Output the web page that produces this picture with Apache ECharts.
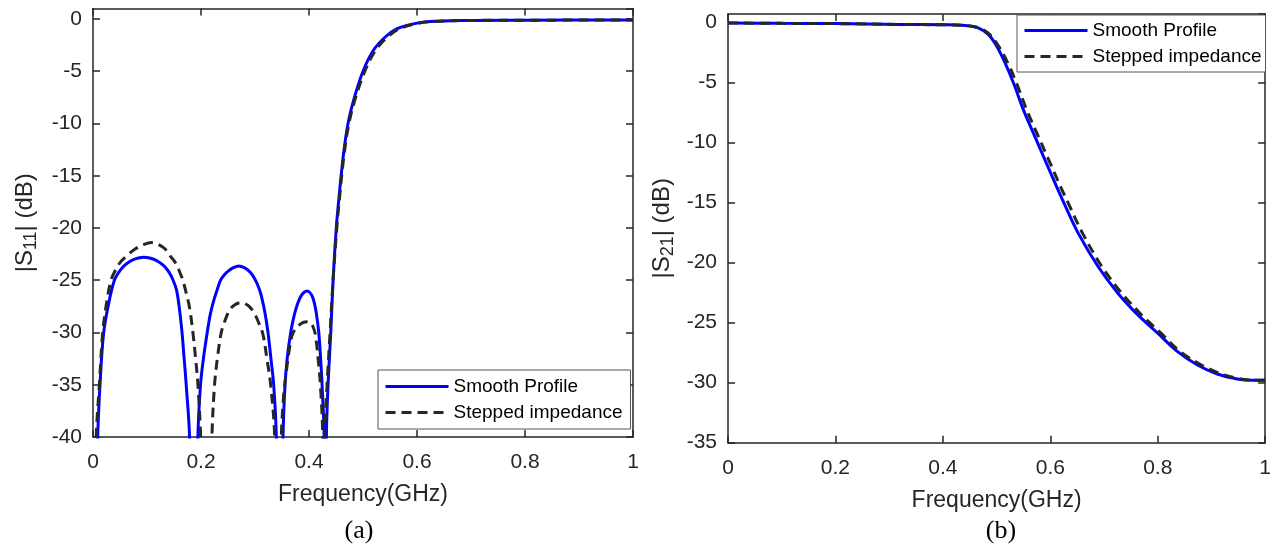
<!DOCTYPE html>
<html>
<head>
<meta charset="utf-8">
<script src="https://cdn.jsdelivr.net/npm/echarts@6/dist/echarts.min.js"></script>
<style>
html,body{margin:0;padding:0;background:#fff;}
#chart{width:1274px;height:545px;}
</style>
</head>
<body>
<div id="chart"></div>
<script>
// ---------- DATA (frequency in GHz, magnitude in dB) ----------
const xTicks = [0, 0.2, 0.4, 0.6, 0.8, 1];
const seriesNames = ['Smooth Profile', 'Stepped impedance'];
const captions = ['(a)', '(b)'];

// (a) |S11| - smooth profile (nulls go below the -40 dB axis floor)
const s11Smooth = [
  [0,-60],[0.0087,-40],[0.013,-35],[0.0198,-30],[0.0303,-26.9],[0.0396,-25],[0.047,-24.3],[0.055,-23.75],[0.064,-23.35],
  [0.0736,-23.06],[0.084,-22.88],[0.094,-22.8],[0.105,-22.88],[0.117,-23.1],[0.126,-23.4],[0.133,-23.7],[0.141,-24.25],
  [0.148,-24.95],[0.1545,-25.9],[0.1595,-27.5],[0.1645,-29.8],[0.1685,-32.3],[0.1726,-35],[0.1788,-40],[0.1865,-60],
  [0.1942,-40],[0.1991,-35],[0.2045,-32.5],[0.2115,-30],[0.2175,-28.2],[0.2238,-26.9],[0.23,-25.9],[0.2362,-25],[0.243,-24.5],
  [0.2498,-24.15],[0.26,-23.8],[0.2702,-23.64],[0.28,-23.8],[0.29,-24.18],[0.2965,-24.6],[0.3024,-25.15],[0.3075,-25.8],
  [0.3117,-26.5],[0.318,-28],[0.3241,-30],[0.3295,-32.5],[0.3346,-35],[0.3395,-40],[0.346,-60],
  [0.3519,-40],[0.3556,-35],[0.36,-32.3],[0.3661,-30],[0.3715,-28.6],[0.3766,-27.6],[0.3815,-26.9],[0.3859,-26.45],
  [0.391,-26.15],[0.3964,-26.03],[0.401,-26.15],[0.4057,-26.5],[0.41,-27.2],[0.4137,-28.2],[0.4181,-30],[0.4215,-32.5],
  [0.4242,-35],[0.428,-40],[0.4301,-60],
  [0.4322,-40],[0.4353,-35],[0.4403,-30],[0.4446,-25],[0.4505,-20],[0.4545,-17.66],[0.4636,-13.05],[0.4728,-9.86],
  [0.4852,-7.32],[0.5006,-4.93],[0.519,-3.02],[0.5407,-1.75],[0.5624,-0.95],[0.593,-0.47],[0.624,-0.25],[0.686,-0.15],
  [0.8,-0.12],[1,-0.1]
];
// (a) |S11| - stepped impedance
const s11Stepped = [
  [0,-60],[0.006,-40],[0.0118,-35],[0.018,-30],[0.025,-27.2],[0.0334,-25],[0.042,-24],[0.0519,-23.2],[0.064,-22.6],
  [0.0767,-22.05],[0.0935,-21.6],[0.1088,-21.4],[0.12,-21.55],[0.13,-21.85],[0.1385,-22.3],[0.1447,-22.8],[0.151,-23.2],
  [0.157,-23.8],[0.162,-24.4],[0.1664,-25],[0.1725,-26.2],[0.1787,-27.6],[0.185,-30],[0.19,-32.5],[0.1943,-35],[0.1993,-40],[0.21,-60],
  [0.2202,-40],[0.2251,-35],[0.231,-32.2],[0.2375,-30],[0.2435,-29],[0.2498,-28.16],[0.256,-27.65],[0.2622,-27.36],
  [0.2685,-27.2],[0.2746,-27.14],[0.282,-27.25],[0.29,-27.55],[0.298,-28.1],[0.3055,-28.9],[0.3148,-30.2],[0.322,-32.5],
  [0.329,-35],[0.3364,-40],[0.3426,-60],
  [0.3488,-40],[0.3531,-36],[0.3574,-34],[0.363,-31.8],[0.3685,-30.3],[0.3755,-29.6],[0.3828,-29.25],[0.39,-29.02],
  [0.397,-28.97],[0.4025,-29.05],[0.4075,-29.45],[0.4118,-30.2],[0.4165,-32.3],[0.4211,-35],[0.4254,-40],[0.4272,-60],
  [0.429,-40],[0.4335,-35],[0.439,-30],[0.4446,-25],[0.4515,-20],[0.4555,-17.66],[0.4648,-13.05],[0.4745,-9.86],
  [0.4875,-7.32],[0.504,-4.93],[0.523,-3.02],[0.545,-1.75],[0.567,-0.95],[0.597,-0.47],[0.628,-0.25],[0.69,-0.15],
  [0.8,-0.12],[1,-0.1]
];
// (b) |S21| - smooth profile
const s21Smooth = [
  [0,-0.05],[0.1,-0.08],[0.2,-0.1],[0.3185,-0.17],[0.4,-0.2],[0.442,-0.25],[0.4667,-0.47],[0.485,-1.02],[0.5006,-2.0],
  [0.516,-3.39],[0.5315,-5.05],[0.55,-7.28],[0.5685,-9.22],[0.59,-11.44],[0.6117,-13.67],[0.627,-15.2],[0.6519,-17.55],
  [0.6889,-20.33],[0.7259,-22.55],[0.763,-24.36],[0.8,-25.88],[0.837,-27.42],[0.874,-28.53],[0.911,-29.28],[0.948,-29.69],
  [0.975,-29.8],[1,-29.8]
];
// (b) |S21| - stepped impedance
const s21Stepped = [
  [0,-0.05],[0.1,-0.08],[0.2,-0.1],[0.3185,-0.17],[0.4,-0.2],[0.442,-0.25],[0.4667,-0.45],[0.487,-1.0],[0.504,-2.0],
  [0.521,-3.39],[0.537,-5.05],[0.556,-7.28],[0.575,-9.22],[0.597,-11.44],[0.619,-13.67],[0.635,-15.2],[0.66,-17.55],
  [0.696,-20.33],[0.733,-22.55],[0.77,-24.36],[0.806,-25.88],[0.842,-27.42],[0.878,-28.45],[0.914,-29.2],[0.95,-29.65],
  [0.975,-29.78],[1,-29.8]
];
const yRangeA = {min: -40, max: 1};
const yRangeB = {min: -35, max: 0.7};

// ---------- STYLE ----------
const FONT = '"Liberation Sans", Arial, Helvetica, sans-serif';
const SERIF = '"Liberation Serif", "Times New Roman", serif';
const INK = '#262626';
const axisLineStyle = {color: INK, width: 1.5};

function xAxes(grid) {
  return [
    {
      type: 'value', gridIndex: grid, min: xTicks[0], max: xTicks[xTicks.length-1], interval: 0.2,
      axisLine: {show: true, onZero: false, lineStyle: axisLineStyle},
      axisTick: {show: true, inside: true, length: 7, lineStyle: axisLineStyle},
      splitLine: {show: false},
      axisLabel: {fontFamily: FONT, fontSize: 21, color: INK, margin: 15,
        formatter: v => String(+v.toFixed(1))},
      name: 'Frequency(GHz)', nameLocation: 'middle', nameGap: 46,
      nameTextStyle: {fontFamily: FONT, fontSize: 23, color: INK}
    },
    {
      type: 'value', gridIndex: grid, position: 'top', min: xTicks[0], max: xTicks[xTicks.length-1], interval: 0.2,
      axisLine: {show: true, onZero: false, lineStyle: axisLineStyle},
      axisTick: {show: true, inside: true, length: 7, lineStyle: axisLineStyle},
      axisLabel: {show: false}, splitLine: {show: false}
    }
  ];
}
function yAxes(grid, range, sub, gap) {
  return [
    {
      type: 'value', gridIndex: grid, min: range.min, max: range.max, interval: 5,
      axisLine: {show: true, onZero: false, lineStyle: axisLineStyle},
      axisTick: {show: true, inside: true, length: 7, lineStyle: axisLineStyle},
      splitLine: {show: false},
      axisLabel: {fontFamily: FONT, fontSize: 21, color: INK, margin: 11, showMaxLabel: false,
        formatter: v => (Math.abs(v % 5) < 1e-9 ? String(v) : '')},
      name: '|S{sub|' + sub + '}| (dB)', nameLocation: 'middle', nameGap: gap,
      nameTextStyle: {fontFamily: FONT, fontSize: 24, color: INK, lineHeight: 30,
        rich: {sub: {fontFamily: FONT, fontSize: 18, color: INK, lineHeight: 18, verticalAlign: 'bottom'}}}
    },
    {
      type: 'value', gridIndex: grid, position: 'right', min: range.min, max: range.max, interval: 5,
      axisLine: {show: true, onZero: false, lineStyle: axisLineStyle},
      axisTick: {show: true, inside: true, length: 7, lineStyle: axisLineStyle},
      axisLabel: {show: false}, splitLine: {show: false}
    }
  ];
}
function line(name, data, xi, yi, dashed) {
  return {
    type: 'line', name: name, data: data, xAxisIndex: xi, yAxisIndex: yi,
    symbol: 'none', smooth: 0.35, clip: true, animation: false,
    lineStyle: dashed ? {color: INK, width: 3, type: [10, 6]} : {color: '#0000ff', width: 3},
    itemStyle: {color: dashed ? INK : '#0000ff'}
  };
}
function legend(left, top, pad) {
  return {
    data: seriesNames, orient: 'vertical', left: left, top: top, padding: pad,
    itemWidth: 63, itemHeight: 14, itemGap: 7, backgroundColor: '#fff',
    borderColor: '#555', borderWidth: 1, borderRadius: 0, selectedMode: false,
    itemStyle: {opacity: 0},
    lineStyle: {width: 3},
    textStyle: {fontFamily: FONT, fontSize: 19, color: '#000'}
  };
}

const chart = echarts.init(document.getElementById('chart'), null, {renderer: 'canvas'});
chart.setOption({
  animation: false,
  backgroundColor: '#fff',
  grid: [
    {left: 93, top: 8.5, width: 540, height: 428.5},
    {left: 728, top: 14, width: 540, height: 428.7}
  ],
  xAxis: [...xAxes(0), ...xAxes(1)],
  yAxis: [...yAxes(0, yRangeA, '11', 53), ...yAxes(1, yRangeB, '21', 51)],
  legend: [legend(378, 370, [7, 8, 7, 6]), legend(1017, 15, [6, 4, 6, 6])],
  series: [
    line(seriesNames[0], s11Smooth, 0, 0, false),
    line(seriesNames[1], s11Stepped, 0, 0, true),
    line(seriesNames[0], s21Smooth, 2, 2, false),
    line(seriesNames[1], s21Stepped, 2, 2, true)
  ],
  graphic: [
    {type: 'text', x: 359, y: 531, style: {text: captions[0], font: '26px ' + SERIF, fontFamily: SERIF, fontSize: 26, fill: '#000', align: 'center', verticalAlign: 'middle'}},
    {type: 'text', x: 1001, y: 531, style: {text: captions[1], font: '26px ' + SERIF, fontFamily: SERIF, fontSize: 26, fill: '#000', align: 'center', verticalAlign: 'middle'}}
  ]
});
</script>
</body>
</html>
